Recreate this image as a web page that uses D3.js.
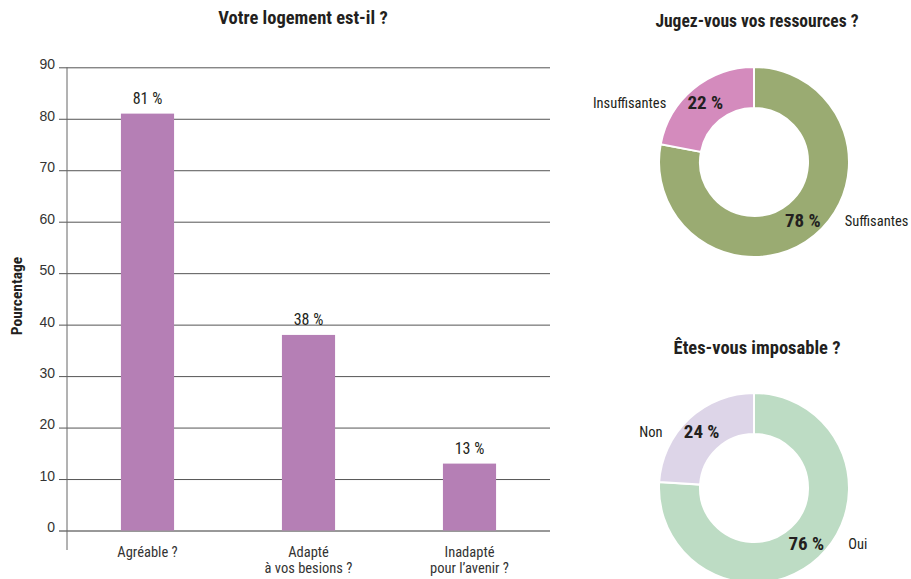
<!DOCTYPE html>
<html>
<head>
<meta charset="utf-8">
<script src="https://cdn.jsdelivr.net/npm/d3@7"></script>
<style>
  body { margin: 0; background: #fff; }
  svg { display: block; font-family: "Liberation Sans Narrow", "Roboto Condensed", "DejaVu Sans Condensed", sans-serif; }
</style>
</head>
<body>
<svg id="chart" width="911" height="579"></svg>
<script>
// Bar chart data
const barCategories = [["Agréable ?"], ["Adapté", "à vos besions ?"], ["Inadapté", "pour l’avenir ?"]];
const barValues = [81, 38, 13];
const yTicks = [0, 10, 20, 30, 40, 50, 60, 70, 80, 90];

// Donut data
const ressourcesLabels = ["Suffisantes", "Insuffisantes"];
const ressourcesValues = [78, 22];
const imposableLabels = ["Oui", "Non"];
const imposableValues = [76, 24];

const svg = d3.select("#chart");
const textColor = "#231f20";

// ---------- Bar chart ----------
const plot = { left: 67, right: 550, top: 67.3, bottom: 530.5 };
const y = d3.scaleLinear().domain([0, 90]).range([plot.bottom, plot.top]);
const x = d3.scaleBand().domain(d3.range(barValues.length))
  .range([plot.left, plot.right]).paddingInner(0.67).paddingOuter(0.335);

svg.append("text")
  .attr("x", 303).attr("y", 24)
  .attr("text-anchor", "middle")
  .attr("font-size", 18.5).attr("font-weight", "bold").attr("fill", textColor)
  .text("Votre logement est-il ?");

// gridlines with tick marks extending left of the axis
const yAxis = d3.axisLeft(y).tickValues(yTicks).tickSize(-(plot.right - plot.left)).tickPadding(6);
const gy = svg.append("g").attr("transform", `translate(${plot.left},0)`).call(yAxis);
gy.select(".domain").remove();
gy.selectAll(".tick line").attr("x1", -8).attr("stroke", "#555").attr("stroke-width", 1);
gy.selectAll(".tick line").filter(d => d === 0).attr("stroke", "#333");
gy.selectAll(".tick text").attr("font-size", 14).attr("fill", "#333")
  .attr("font-family", "inherit").attr("dy", "0.1em").attr("x", -12);

// vertical axis line
svg.append("line")
  .attr("x1", plot.left).attr("x2", plot.left)
  .attr("y1", plot.top).attr("y2", 550)
  .attr("stroke", "#666").attr("stroke-width", 1);

svg.append("text")
  .attr("transform", "translate(22,296) rotate(-90)")
  .attr("text-anchor", "middle")
  .attr("font-size", 15.5).attr("font-weight", "bold").attr("fill", textColor)
  .text("Pourcentage");

svg.append("g").selectAll("rect").data(barValues).join("rect")
  .attr("x", (d, i) => x(i)).attr("width", x.bandwidth())
  .attr("y", d => y(d)).attr("height", d => y(0) - y(d))
  .attr("fill", "#b57fb5");

svg.append("g").selectAll("text").data(barValues).join("text")
  .attr("x", (d, i) => x(i) + x.bandwidth() / 2)
  .attr("y", d => y(d) - 10)
  .attr("text-anchor", "middle")
  .attr("font-size", 16).attr("fill", textColor)
  .text(d => `${d} %`);

const catG = svg.append("g").selectAll("text").data(barCategories).join("text")
  .attr("x", (d, i) => x(i) + x.bandwidth() / 2)
  .attr("y", 557)
  .attr("text-anchor", "middle")
  .attr("font-size", 14.5).attr("fill", "#333");
catG.selectAll("tspan").data(d => d).join("tspan")
  .attr("x", function() { return d3.select(this.parentNode).attr("x"); })
  .attr("dy", (d, i) => i === 0 ? 0 : 16)
  .text(d => d);

// ---------- Donuts ----------
function donut(cx, cy, title, titleY, titleSize, labels, values, colors) {
  const g = svg.append("g").attr("transform", `translate(${cx},${cy})`);
  svg.append("text")
    .attr("x", cx + 3).attr("y", titleY)
    .attr("text-anchor", "middle")
    .attr("font-size", titleSize).attr("font-weight", "bold").attr("fill", textColor)
    .text(title);
  const pie = d3.pie().sort(null)(values);
  const arc = d3.arc().innerRadius(54).outerRadius(95);
  g.selectAll("path").data(pie).join("path")
    .attr("d", arc)
    .attr("fill", (d, i) => colors[i])
    .attr("stroke", "#fff").attr("stroke-width", 2);
  const labelArc = d3.arc().innerRadius(58).outerRadius(95);
  pie.forEach((d, i) => {
    const [px, py] = labelArc.centroid(d);
    const right = px > 0;
    g.append("text")
      .attr("x", px).attr("y", py + 6)
      .attr("text-anchor", "middle")
      .attr("font-size", 19).attr("font-weight", "bold").attr("fill", textColor)
      .text(`${values[i]} %`);
    g.append("text")
      .attr("x", right ? px + 42 : px - 39).attr("y", py + 5)
      .attr("text-anchor", right ? "start" : "end")
      .attr("font-size", 14.5).attr("fill", textColor)
      .text(labels[i]);
  });
}

donut(754, 162, "Jugez-vous vos ressources ?", 27, 17.5, ressourcesLabels, ressourcesValues, ["#9aab72", "#d48bbd"]);
donut(754, 488, "Êtes-vous imposable ?", 354, 18.5, imposableLabels, imposableValues, ["#bddcc4", "#ddd5e8"]);
</script>
</body>
</html>
